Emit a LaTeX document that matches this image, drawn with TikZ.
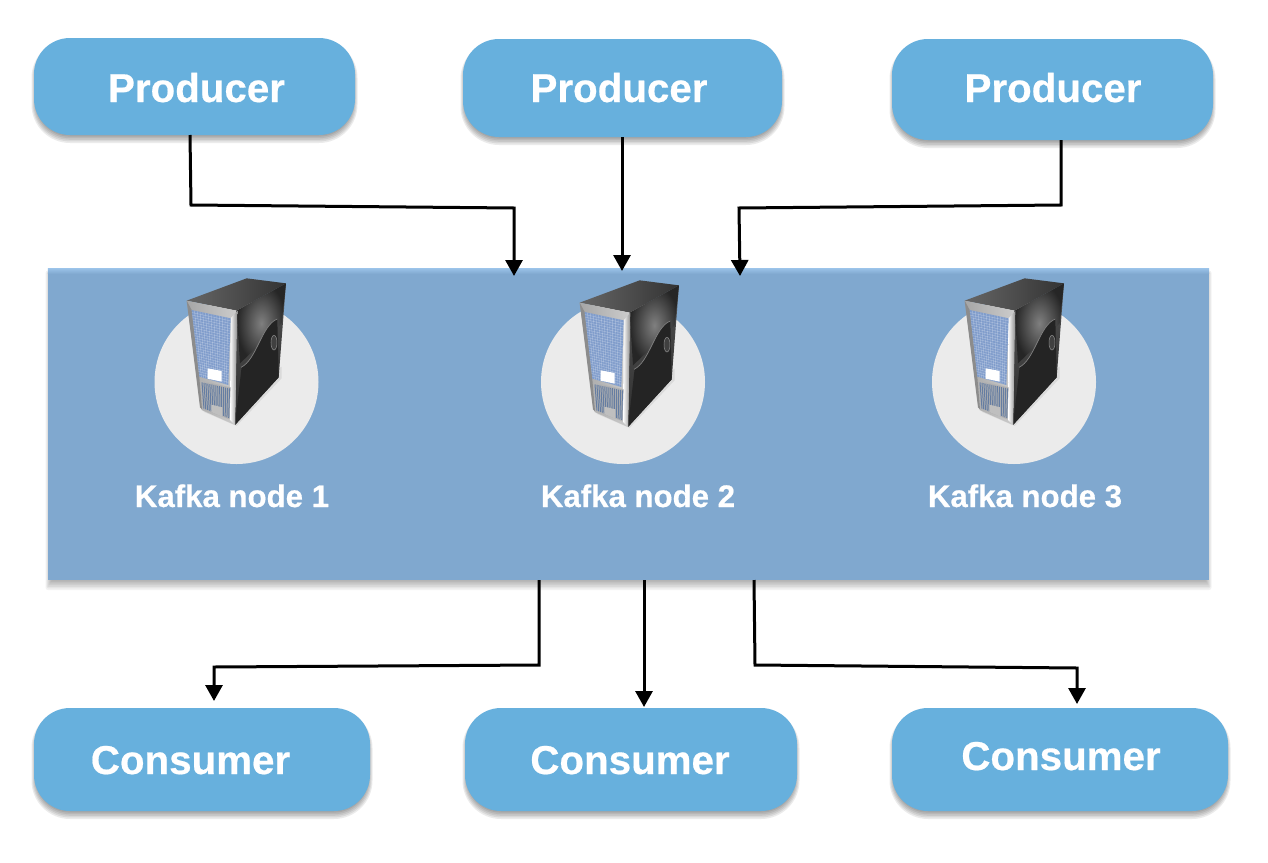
\documentclass[tikz,border=0pt]{standalone}
\usepackage{fontspec}
\setmainfont[BoldFeatures={FakeBold=0.5}]{Liberation Sans}
\usetikzlibrary{arrows.meta}
\definecolor{boxblue}{HTML}{67B0DD}
\definecolor{bandblue}{HTML}{80A8CF}
\definecolor{bandtop}{HTML}{98C0E6}
\definecolor{disc}{HTML}{EBEBEB}
\definecolor{griddot}{HTML}{7F9CCB}
\tikzset{
  x=1pt,y=-1pt,
  roundbox/.style={fill=boxblue,draw=none,rounded corners=36pt},
  bigtext/.style={anchor=base,inner sep=0pt,text=white,font=\fontsize{40.3}{44}\selectfont\bfseries},
  nodetext/.style={anchor=base,inner sep=0pt,text=white,font=\fontsize{31.2}{36}\selectfont\bfseries},
  arr/.style={draw=black,line width=3pt,line join=miter,-{Triangle[length=16pt,width=17pt]}},
  discnode/.style={circle,fill=disc,draw=none,minimum size=164pt,inner sep=0pt},
}
% soft shadow: stacked translucent shapes under a box (left, top, right, bottom, radius, opacity)
\newcommand{\softshadow}[6]{%
  \foreach \k in {0,...,8}{
    \pgfmathsetmacro{\grow}{\k-5.5}
    \pgfmathsetmacro{\rad}{max(#5+\grow,0.1)}
    \fill[black,opacity=#6,rounded corners=\rad pt]
      ({#1-\grow},{#2+4-\grow}) rectangle ({#3+\grow},{#4+4+1.6*\grow});
  }}
\newcommand{\serverpic}[2]{%
\begin{scope}[shift={(#1,#2)},x=0.3333pt,y=-0.3333pt]
  % soft shadow on the disc
  \fill[black,opacity=.07] (190,425) -- (290,468) -- (425,325) -- (425,290) -- cycle;
  % right side
  \shade[left color=black!68,right color=black!82,shading angle=20] (290,122) -- (438,40) -- (416,322) -- (285,465) -- cycle;
  \shade[inner color=black!50,outer color=black!85] (290,122) -- (438,40) -- (425,160) -- (300,280) -- cycle;
  \fill[black!86] (305,290) .. controls (350,270) and (365,165) .. (412,147) -- (416,322) -- (285,465) -- cycle;
  \draw[black!50,line width=.7pt] (303,292) .. controls (350,270) and (365,165) .. (412,147);
  \fill[black!75,draw=black!45,line width=.5pt] (402,218) ellipse (9 and 22);
  % top
  \shade[left color=black!60,right color=black!80] (140,92) -- (320,25) -- (438,40) -- (290,122) -- cycle;
  % front frame
  \shade[left color=black!35,right color=black!20] (140,92) -- (290,122) -- (285,465) -- (185,420) -- cycle;
  \fill[black!45] (140,92) -- (155,120) -- (178,322) -- (186,418) -- (180,412) -- cycle;
  \shade[left color=white,right color=black!45] (272,145) -- (292,122) -- (285,465) -- (270,450) -- cycle;
  % upper grille
  \fill[griddot] (155,120) -- (272,145) -- (265,345) -- (178,320) -- cycle;
  \foreach \i in {1,...,13}{
    \pgfmathsetmacro{\xa}{155+\i*8.36}\pgfmathsetmacro{\ya}{120+\i*1.79}
    \pgfmathsetmacro{\xb}{178+\i*6.21}\pgfmathsetmacro{\yb}{320+\i*1.79}
    \draw[white,opacity=.3,line width=.45pt] (\xa,\ya) -- (\xb,\yb);
  }
  \foreach \j in {1,...,25}{
    \pgfmathsetmacro{\xa}{155+\j*.885}\pgfmathsetmacro{\ya}{120+\j*7.69}
    \pgfmathsetmacro{\xb}{272-\j*.27}\pgfmathsetmacro{\yb}{145+\j*7.69}
    \draw[white,opacity=.3,line width=.45pt] (\xa,\ya) -- (\xb,\yb);
  }
  \fill[white] (203,295) -- (245,303) -- (245,335) -- (203,326) -- cycle;
  % lower grille
  \fill[black!30] (183,332) -- (272,352) -- (268,448) -- (190,418) -- cycle;
  \foreach \i in {0,...,14}{
    \pgfmathsetmacro{\xa}{186+\i*5.9}\pgfmathsetmacro{\ya}{337+\i*1.3}
    \pgfmathsetmacro{\xb}{192+\i*5.3}\pgfmathsetmacro{\yb}{416+\i*2}
    \draw[griddot!80!black,line width=1pt] (\xa,\ya) -- (\xb,\yb);
  }
  \fill[black!25] (214,404) -- (247,412) -- (247,440) -- (214,426) -- cycle;
\end{scope}}
\begin{document}
\begin{tikzpicture}
\useasboundingbox (0,0) rectangle (1268,862);
\fill[white] (0,0) rectangle (1268,862);
% shadows
\softshadow{34}{38}{355}{135}{36}{.08}
\softshadow{463}{39}{782}{137}{36}{.08}
\softshadow{892}{39}{1213}{140}{36}{.08}
\softshadow{34}{708}{370}{811}{36}{.08}
\softshadow{465}{708}{797}{811}{36}{.08}
\softshadow{892}{708}{1228}{811}{36}{.08}
\softshadow{48}{269}{1209}{582}{0}{.05}
% producers
\node[roundbox,minimum width=321pt,minimum height=97pt] (p1) at (194.5,86.5) {};
\node[roundbox,minimum width=319pt,minimum height=98pt] (p2) at (622.5,88) {};
\node[roundbox,minimum width=321pt,minimum height=101pt] (p3) at (1052.5,89.5) {};
\node[bigtext] (tp1) at (196.5,102) {Producer};
\node[bigtext] (tp2) at (619,102) {Producer};
\node[bigtext] (tp3) at (1053,102) {Producer};
% kafka band
\node[fill=bandblue,draw=none,minimum width=1161pt,minimum height=311pt,inner sep=0pt] (band) at (628.5,424.5) {};
\shade[top color=bandtop,bottom color=bandblue] (band.north west) rectangle ([yshift=-5pt]band.north east);
\node[discnode] (d1) at (236.5,382) {};
\node[discnode] (d2) at (623,382) {};
\node[discnode] (d3) at (1014,382) {};
\serverpic{140}{270}
\serverpic{533}{272}
\serverpic{918}{270}
\node[nodetext] (k1) at (232,507) {Kafka node 1};
\node[nodetext] (k2) at (638,507) {Kafka node 2};
\node[nodetext] (k3) at (1025,507) {Kafka node 3};
% consumers
\node[roundbox,minimum width=336pt,minimum height=103pt] (c1) at (202,759.5) {};
\node[roundbox,minimum width=332pt,minimum height=103pt] (c2) at (631,759.5) {};
\node[roundbox,minimum width=336pt,minimum height=103pt] (c3) at (1060,759.5) {};
\node[bigtext] (tc1) at (190.5,774) {Consumer};
\node[bigtext] (tc2) at (630,774) {Consumer};
\node[bigtext] (tc3) at (1061,770) {Consumer};
% connector end points
\coordinate (a1) at (190,135);
\coordinate (a2) at (622,137);
\coordinate (a3) at (1061,140);
\coordinate (i1) at (514,276);
\coordinate (i2) at (622,271);
\coordinate (i3) at (740,276);
\coordinate (o1) at (539,580);
\coordinate (o2) at (644,580);
\coordinate (o3) at (754,580);
\coordinate (e1) at (214,701);
\coordinate (e2) at (644,707);
\coordinate (e3) at (1077,704);
% connectors
\draw[arr] (a1) -- (191,205) -- (514,208) -- (i1);
\draw[arr] (a2) -- (i2);
\draw[arr] (a3) -- (1061,205) -- (739,208) -- (i3);
\draw[arr] (o1) -- (539,665) -- (214,667) -- (e1);
\draw[arr] (o2) -- (e2);
\draw[arr] (o3) -- (755,665) -- (1077,668) -- (e3);
\end{tikzpicture}
\end{document}
